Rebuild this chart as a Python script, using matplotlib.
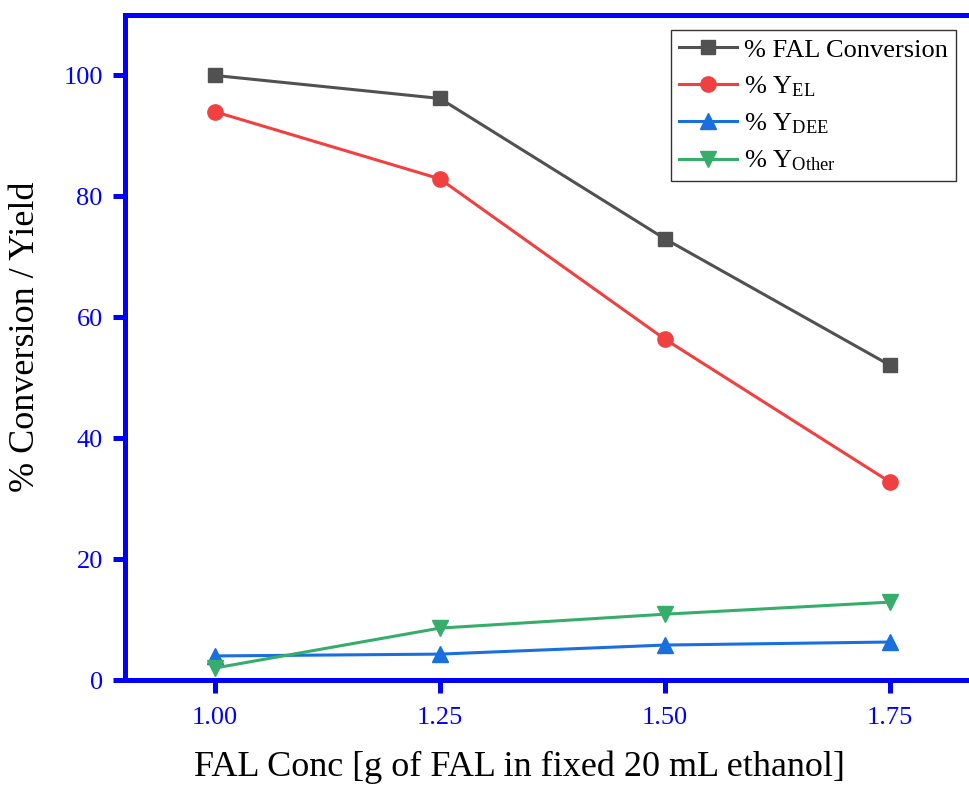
import matplotlib
matplotlib.use("Agg")
from matplotlib import pyplot as plt

# FAL loading (g in 20 mL ethanol) and the measured conversion / yields (%)
fal_conc = [1.00, 1.25, 1.50, 1.75]
fal_conversion = [100.0, 96.2, 73.0, 52.1]
yield_el = [94.0, 82.9, 56.4, 32.8]
yield_dee = [4.0, 4.3, 5.8, 6.3]
yield_other = [2.0, 8.6, 10.9, 12.9]

series = [
    (fal_conversion, "% FAL Conversion", "#515151", "s", 10),
    (yield_el, r"% Y$_{\mathrm{EL}}$", "#F14040", "o", 11),
    (yield_dee, r"% Y$_{\mathrm{DEE}}$", "#1A6FDF", "^", 11),
    (yield_other, r"% Y$_{\mathrm{Other}}$", "#37AD6B", "v", 11),
]

plt.rcParams["font.family"] = ["Liberation Serif", "DejaVu Serif"]
plt.rcParams["mathtext.fontset"] = "custom"
plt.rcParams["mathtext.rm"] = "Liberation Serif"
plt.rcParams["mathtext.it"] = "Liberation Serif:italic"

fig = plt.figure(figsize=(9.69, 7.89), dpi=100)
ax = fig.add_axes([0.129, 0.138, 0.882, 0.843])

for vals, label, color, marker, ms in series:
    ax.plot(fal_conc, vals, color=color, marker=marker, markersize=ms,
            linewidth=2.2, label=label, clip_on=False, zorder=3)

ax.set_xlim(0.90, 1.85)
ax.set_ylim(0, 110)
ax.set_xticks(fal_conc)
ax.set_xticklabels(["1.00", "1.25", "1.50", "1.75"])
ax.set_yticks([0, 20, 40, 60, 80, 100])

blue = "#0000FF"
for side in ["left", "bottom", "top"]:
    ax.spines[side].set_color(blue)
    ax.spines[side].set_linewidth(3.6)
ax.spines["right"].set_visible(False)

ax.tick_params(axis="both", direction="out", length=9, width=3.6,
               color=blue, labelcolor=blue, labelsize=19, pad=7)
ax.tick_params(axis="x", pad=10)

ax.set_xlabel("FAL Conc [g of FAL in fixed 20 mL ethanol]", fontsize=26)
ax.set_ylabel("% Conversion / Yield", fontsize=26)
ax.xaxis.set_label_coords(0.462, -0.106)
ax.yaxis.set_label_coords(-0.097, 0.516)

leg = ax.legend(loc="upper right", bbox_to_anchor=(0.978, 0.985), fontsize=19,
                frameon=True, fancybox=False, edgecolor="black",
                handlelength=2.2, borderpad=0.3, labelspacing=0.48,
                handletextpad=0.25, borderaxespad=0.2)
leg.get_frame().set_linewidth(1.0)

fig.savefig("out.png", dpi=100)
